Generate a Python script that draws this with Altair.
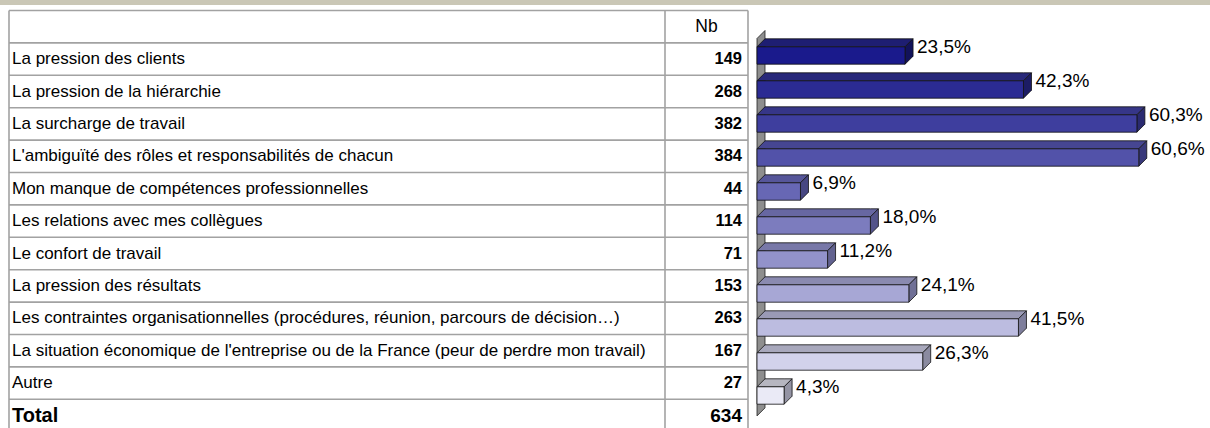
import altair as alt
import pandas as pd

# ---------------- data ----------------
labels = [
    "La pression des clients",
    "La pression de la hiérarchie",
    "La surcharge de travail",
    "L'ambiguïté des rôles et responsabilités de chacun",
    "Mon manque de compétences professionnelles",
    "Les relations avec mes collègues",
    "Le confort de travail",
    "La pression des résultats",
    "Les contraintes organisationnelles (procédures, réunion, parcours de décision…)",
    "La situation économique de l'entreprise ou de la France (peur de perdre mon travail)",
    "Autre",
]
counts = [149, 268, 382, 384, 44, 114, 71, 153, 263, 167, 27]
percents = [23.5, 42.3, 60.3, 60.6, 6.9, 18.0, 11.2, 24.1, 41.5, 26.3, 4.3]
pct_text = ["23,5%", "42,3%", "60,3%", "60,6%", "6,9%", "18,0%", "11,2%",
            "24,1%", "41,5%", "26,3%", "4,3%"]
header_text = "Nb"
total_label = "Total"
total_count = 634

front_colors = ["#1A1A8C", "#2B2B93", "#3E3E9E", "#5252A9", "#6767B4", "#7C7CBE",
                "#9292CA", "#A7A7D5", "#BCBCE0", "#D2D2EB", "#EAEAF6"]
top_colors = ["#1E1E72", "#28287A", "#363688", "#464692", "#56569A", "#6767A2",
              "#7878A8", "#8A8AB0", "#9A9AB6", "#A8A8BC", "#B6B6C0"]
side_colors = ["#12125A", "#1C1C64", "#2A2A70", "#38387A", "#464682", "#54548A",
               "#626290", "#707096", "#7E7E9C", "#8A8AA0", "#9494A4"]

# ---------------- geometry helpers (scales) ----------------
FONT = "Liberation Sans"
GRID = "#A2A2A2"
PX_PER_PCT = 6.3
X0 = 757
bx = alt.Scale(domain=[0, 70], range=[X0, X0 + 70 * PX_PER_PCT])
UNIT = 34
by = alt.Scale(domain=[0, 12], range=[21.5, 21.5 + 12 * UNIT])
ROW = 32.4
ty = alt.Scale(domain=[0, 13], range=[10.5, 10.5 + 13 * ROW])

DEPTH = 8
ddx = DEPTH / PX_PER_PCT
ddy = DEPTH / UNIT
half = 8.7 / UNIT

n = len(labels)

# front faces
front = pd.DataFrame({
    "k": list(range(n)),
    "p": percents,
    "y1": [k + 1 - half for k in range(n)],
    "y2": [k + 1 + half for k in range(n)],
    "c": front_colors,
    "lab": pct_text,
})
front["zero"] = 0.0

# top and side faces (parallelograms as areas)
top_rows = []
side_rows = []
for k, p in enumerate(percents):
    yt = k + 1 - half
    yb = k + 1 + half
    c = top_colors[k]
    top_rows += [
        {"k": k, "x": 0.0, "ya": yt, "yb": yt, "c": c},
        {"k": k, "x": ddx, "ya": yt - ddy, "yb": yt, "c": c},
        {"k": k, "x": p, "ya": yt - ddy, "yb": yt, "c": c},
        {"k": k, "x": p + ddx, "ya": yt - ddy, "yb": yt - ddy, "c": c},
    ]
    s = side_colors[k]
    side_rows += [
        {"k": k, "x": p, "ya": yt, "yb": yb, "c": s},
        {"k": k, "x": p + ddx, "ya": yt - ddy, "yb": yb - ddy, "c": s},
    ]
top_df = pd.DataFrame(top_rows)
side_df = pd.DataFrame(side_rows)

wall_top, wall_bot = 0.5, 11.6
wall_df = pd.DataFrame({
    "x": [0.0, ddx],
    "ya": [wall_top, wall_top - ddy],
    "yb": [wall_bot, wall_bot - ddy],
})

# ---------------- layers ----------------
one = pd.DataFrame({"a": [0]})

banner = alt.Chart(one).mark_rect(color="#CAC7B6").encode(
    x=alt.value(0), x2=alt.value(1210), y=alt.value(0), y2=alt.value(5)
)

wall = alt.Chart(wall_df).mark_area(color="#8E8E8E", stroke="#222222", strokeWidth=0.8).encode(
    x=alt.X("x:Q", scale=bx, axis=None),
    y=alt.Y("ya:Q", scale=by, axis=None, stack=None),
    y2="yb:Q",
)

tops = alt.Chart(top_df).mark_area(stroke="#111111", strokeWidth=0.8).encode(
    x=alt.X("x:Q", scale=bx, axis=None),
    y=alt.Y("ya:Q", scale=by, axis=None, stack=None),
    y2="yb:Q",
    color=alt.Color("c:N", scale=None),
    detail="k:N",
)

sides = alt.Chart(side_df).mark_area(stroke="#111111", strokeWidth=0.8).encode(
    x=alt.X("x:Q", scale=bx, axis=None),
    y=alt.Y("ya:Q", scale=by, axis=None, stack=None),
    y2="yb:Q",
    color=alt.Color("c:N", scale=None),
    detail="k:N",
)

fronts = alt.Chart(front).mark_rect(stroke="#111111", strokeWidth=0.8).encode(
    x=alt.X("zero:Q", scale=bx, axis=None),
    x2="p:Q",
    y=alt.Y("y1:Q", scale=by, axis=None),
    y2="y2:Q",
    color=alt.Color("c:N", scale=None),
)

pct_labels = alt.Chart(front).mark_text(
    align="left", baseline="middle", dx=12, fontSize=19, font=FONT, color="#000000"
).encode(
    x=alt.X("p:Q", scale=bx, axis=None),
    y=alt.Y("y1:Q", scale=by, axis=None),
    text="lab:N",
)

# table
rows = pd.DataFrame({
    "r": [i + 1.5 for i in range(n)],
    "label": labels,
    "count": [str(c) for c in counts],
})
total_df = pd.DataFrame({"r": [12.5], "label": [total_label], "count": [str(total_count)]})
header_df = pd.DataFrame({"r": [0.5], "h": [header_text]})
hl = pd.DataFrame({"b": list(range(0, 14))})

hlines = alt.Chart(hl).mark_rule(color=GRID, strokeWidth=1.6).encode(
    x=alt.value(9), x2=alt.value(748), y=alt.Y("b:Q", scale=ty, axis=None)
)
vlines = [
    alt.Chart(one).mark_rule(color=GRID, strokeWidth=1.6).encode(
        x=alt.value(xv), y=alt.value(10.5), y2=alt.value(428)
    )
    for xv in (9, 665, 748)
]

row_labels = alt.Chart(rows).mark_text(
    align="left", baseline="middle", fontSize=17, font=FONT, color="#000000"
).encode(x=alt.value(12), y=alt.Y("r:Q", scale=ty, axis=None), text="label:N")

row_counts = alt.Chart(rows).mark_text(
    align="right", baseline="middle", fontSize=16.5, fontWeight="bold", font=FONT, color="#000000"
).encode(x=alt.value(742), y=alt.Y("r:Q", scale=ty, axis=None), text="count:N")

header = alt.Chart(header_df).mark_text(
    align="center", baseline="middle", fontSize=17.5, font=FONT, color="#000000"
).encode(x=alt.value(706.5), y=alt.Y("r:Q", scale=ty, axis=None), text="h:N")

total_lab = alt.Chart(total_df).mark_text(
    align="left", baseline="middle", fontSize=20, fontWeight="bold", font=FONT, color="#000000"
).encode(x=alt.value(12), y=alt.Y("r:Q", scale=ty, axis=None), text="label:N")

total_cnt = alt.Chart(total_df).mark_text(
    align="right", baseline="middle", fontSize=19, fontWeight="bold", font=FONT, color="#000000"
).encode(x=alt.value(742), y=alt.Y("r:Q", scale=ty, axis=None), text="count:N")

chart = alt.layer(
    banner, *vlines, hlines, row_labels, row_counts, header, total_lab, total_cnt,
    wall, tops, sides, fronts, pct_labels,
).resolve_scale(x="independent", y="independent").properties(
    width=1210, height=428, padding=0, autosize="none", background="#FFFFFF"
).configure_view(stroke=None)

chart.save("out.html", embed_options={"renderer": "svg", "actions": False})
